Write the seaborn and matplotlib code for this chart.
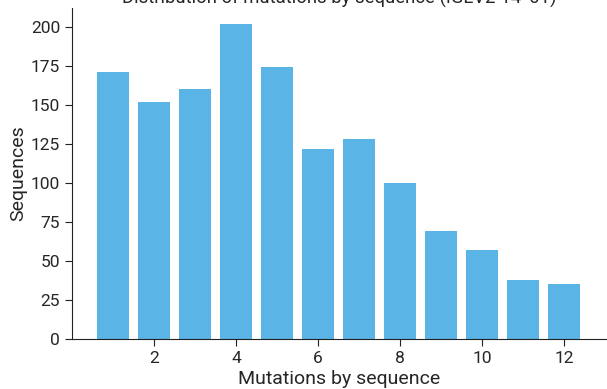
import pandas as pd
import matplotlib.pyplot as plt
import seaborn as sns

sns.set_style("ticks")
plt.rcParams['font.family'] = ['Roboto', 'DejaVu Sans']

# Mutation counts and number of sequences per count
mutations = [1, 2, 3, 4, 5, 6, 7, 8, 9, 10, 11, 12]
sequences = [171, 152, 160, 202, 174, 122, 128, 100, 69, 57, 38, 35]

df = pd.DataFrame({"Mutations by sequence": mutations, "Sequences": sequences})

fig = plt.figure(figsize=(6.07, 3.89), dpi=100)
ax = fig.add_axes([72 / 607, 50 / 389, 535 / 607, 331 / 389])
sns.barplot(data=df, x="Mutations by sequence", y="Sequences", native_scale=True,
            color="#5ab4e5", saturation=1, width=0.8, linewidth=0, ax=ax)

ax.set_xlim(0, 13.05)
ax.set_ylim(0, 212)
ax.set_xticks([2, 4, 6, 8, 10, 12])
ax.set_yticks(range(0, 201, 25))
ax.tick_params(labelsize=12.5, length=5, color="#222222")
ax.set_xlabel("Mutations by sequence", fontsize=14, labelpad=3)
ax.set_ylabel("Sequences", fontsize=14, labelpad=3)
ax.set_title("Distribution of mutations by sequence (IGLV2-14*01)", fontsize=13.3, pad=2)
sns.despine(ax=ax)
for s in ["left", "bottom"]:
    ax.spines[s].set_color("#222222")

fig.savefig("out.png", dpi=100)
